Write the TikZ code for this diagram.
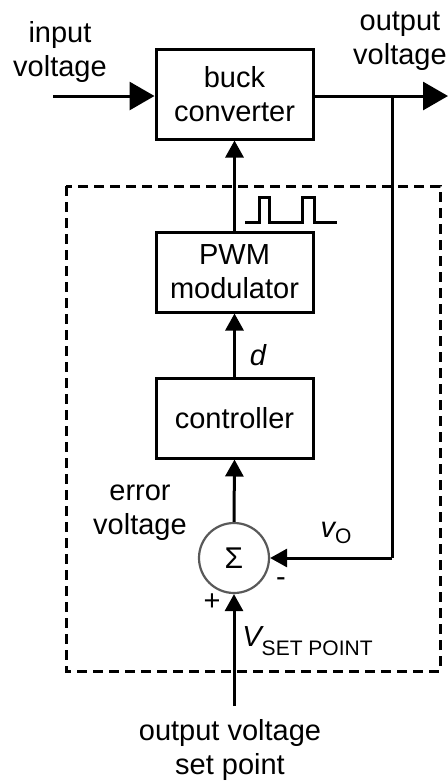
\documentclass[tikz,border=0pt]{standalone}
\usepackage{fontspec}
\setmainfont{Liberation Sans}
\usetikzlibrary{arrows.meta}
\begin{document}
\begin{tikzpicture}[x=0.5pt,y=-0.5pt,
  every node/.style={font=\fontsize{14.5}{17}\selectfont, inner sep=0pt},
  block/.style={draw, line width=1.5pt, minimum width=78.5pt, minimum height=40pt, align=center},
  lbl/.style={align=center},
  wire/.style={line width=1.5pt},
  bigarrow/.style={wire, -{Triangle[length=12.5pt,width=14pt]}},
  smallarrow/.style={wire, -{Triangle[length=8.5pt,width=9pt]}},
  sumnode/.style={circle, draw=black!65, line width=1.1pt, minimum size=35pt},
  sub/.style={font=\fontsize{10.5}{12}\selectfont}
]
\useasboundingbox (0,0) rectangle (448,783);
% dashed controller region
\draw[line width=1.5pt, dash pattern=on 5pt off 3pt] (66,186) rectangle (440,671);

% blocks
\node[block, minimum height=45pt] (buck) at (234.5,94) {buck\\converter};
\node[block] (pwm) at (234.5,272) {PWM\\modulator};
\node[block] (ctrl) at (234.5,418) {controller};
\node[sumnode] (sum) at (234,558) {\fontsize{15}{17}\selectfont Σ};

% coordinates
\coordinate (in) at (53,96);
\coordinate (out) at (448,96);
\coordinate (branch) at (392,96);
\coordinate (corner) at (392,558);
\coordinate (sp) at (234,706);

% connectors
\draw[bigarrow] (in) -- (buck.west |- in);
\draw[bigarrow] (buck.east |- out) -- (out);
\draw[smallarrow] (pwm.north) -- (buck.south);
\draw[smallarrow] (ctrl.north) -- (pwm.south);
\draw[smallarrow] (sum.north) -- (ctrl.south);
\draw[wire] (branch) -- (corner);
\draw[smallarrow] (corner) -- (sum.east);
\draw[smallarrow] (sp) -- (sum.south);

% PWM waveform
\draw[wire] (245,222) -- (259,222) -- (259,197) -- (269,197) -- (269,222) -- (302,222) -- (302,197) -- (314,197) -- (314,222) -- (337,222);

% labels
\node[lbl] (lin) at (60,52) {input\\voltage};
\node[lbl] (lout) at (400,41) {output\\voltage};
\node[lbl] (lerr) at (140,513) {error\\voltage};
\node[lbl] (lsp) at (230,750) {output voltage\\set point};
\node (ld) at (258,355) {\itshape d};
\node (lvo) at (336,533) {\itshape v\upshape\raisebox{-3pt}{\fontsize{10.5}{12}\selectfont O}};
\node[anchor=west] (lvsp) at (242,641) {\itshape V\upshape\raisebox{-4.5pt}{\fontsize{10.5}{12}\selectfont SET POINT}};
\node (lplus) at (212,602) {+};
\node (lminus) at (281,582) {-};
\end{tikzpicture}
\end{document}
